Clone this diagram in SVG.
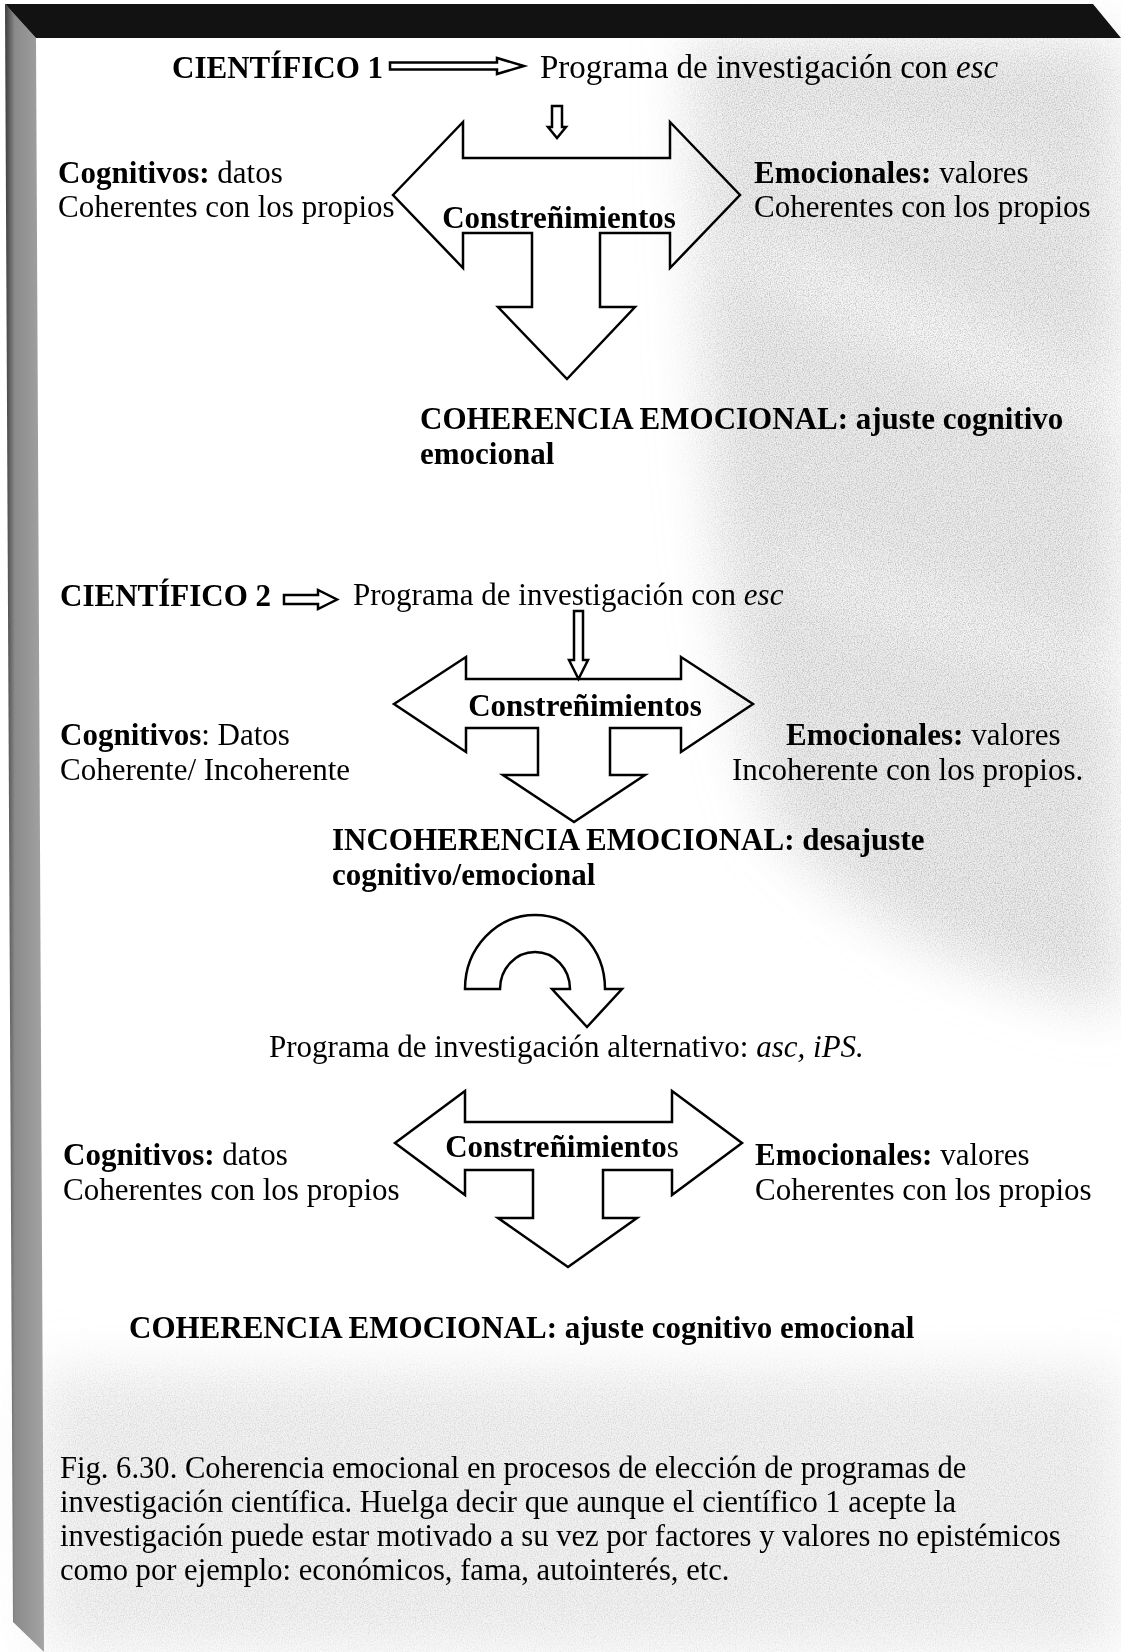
<svg xmlns="http://www.w3.org/2000/svg" width="1121" height="1652" viewBox="0 0 1121 1652">
  <style>
    .t { font-family: "Liberation Serif", "Times New Roman", serif; font-size: 31px; fill: #000; }
    .b { font-weight: bold; }
    .i { font-style: italic; }
    .n { font-weight: normal; }
    .cap { font-size: 30.6px; }
    .shape { fill: none; stroke: #000; stroke-width: 2.5; stroke-linejoin: miter; }
  </style>
  <defs>
    <filter id="soft" x="-30%" y="-30%" width="160%" height="160%">
      <feGaussianBlur stdDeviation="28"/>
    </filter>
    <filter id="grain" x="0" y="0" width="100%" height="100%">
      <feTurbulence type="fractalNoise" baseFrequency="0.85" numOctaves="2" seed="3"/>
      <feColorMatrix type="matrix" values="0 0 0 0 0  0 0 0 0 0  0 0 0 0 0  -2.2 0 0 0 1.3"/>
    </filter>
    <linearGradient id="bandShade" x1="0" y1="0" x2="1" y2="0">
      <stop offset="0" stop-color="#3c3c3c"/>
      <stop offset="0.25" stop-color="#8a8a8a"/>
      <stop offset="1" stop-color="#a4a4a4"/>
    </linearGradient>
    <mask id="paperTone">
      <rect x="0" y="0" width="1121" height="1652" fill="#000"/>
      <g filter="url(#soft)">
        <path d="M690 38 H1121 V1010 C1010 990 860 930 770 820 C710 640 700 330 690 38 Z" fill="#fff"/>
        <rect x="40" y="1370" width="1081" height="282" fill="#fff" opacity="0.6"/>
      </g>
    </mask>
  </defs>

  <!-- paper with soft marbled shading -->
  <rect x="0" y="0" width="1121" height="1652" fill="#ffffff"/>
  <g filter="url(#soft)">
    <path d="M690 38 H1121 V1010 C1010 990 860 930 770 820 C710 640 700 330 690 38 Z" fill="#cccccc" opacity="0.4"/>
    <ellipse cx="930" cy="330" rx="230" ry="26" transform="rotate(24 930 330)" fill="#ffffff" opacity="0.7"/>
    <ellipse cx="960" cy="620" rx="220" ry="22" transform="rotate(18 960 620)" fill="#ffffff" opacity="0.6"/>
    <ellipse cx="900" cy="160" rx="180" ry="20" transform="rotate(10 900 160)" fill="#ffffff" opacity="0.5"/>
    <rect x="40" y="1370" width="1081" height="282" fill="#d8d8d8" opacity="0.35"/>
  </g>
  <rect x="0" y="0" width="1121" height="1652" filter="url(#grain)" mask="url(#paperTone)" opacity="0.2"/>

  <!-- frame edges -->
  <polygon points="5,4 36,38 44,1652 13,1622" fill="url(#bandShade)"/>
  <polygon points="5,4 1093,4 1121,38 36,38" fill="#121212"/>

  <!-- section 1 -->
  <g id="cientifico1">
    <text class="t b" x="172" y="78">CIENTÍFICO 1</text>
  </g>
  <g id="programa1">
    <text class="t" x="540" y="78" style="font-size:33px">Programa de investigación con <tspan class="i">esc</tspan></text>
  </g>
  <g id="constrenimientos1">
    <path class="shape" d="M393 195 L463 122 L463 158 L670 158 L670 122 L740 195 L670 268 L670 233 L600 233 L600 307 L635 307 L567 379 L498 307 L532 307 L532 233 L463 233 L463 268 Z"/>
    <text class="t b" x="559" y="228" text-anchor="middle">Constreñimientos</text>
  </g>
  <g id="cognitivos1">
    <text class="t" x="58" y="183"><tspan class="b">Cognitivos:</tspan> datos</text>
    <text class="t" x="58" y="217">Coherentes con los propios</text>
  </g>
  <g id="emocionales1">
    <text class="t" x="754" y="183"><tspan class="b">Emocionales:</tspan> valores</text>
    <text class="t" x="754" y="217">Coherentes con los propios</text>
  </g>
  <g id="coherencia1">
    <text class="t b" x="420" y="429">COHERENCIA EMOCIONAL: ajuste cognitivo</text>
    <text class="t b" x="420" y="464">emocional</text>
  </g>

  <!-- section 2 -->
  <g id="cientifico2">
    <text class="t b" x="60" y="606">CIENTÍFICO 2</text>
  </g>
  <g id="programa2">
    <text class="t" x="353" y="605">Programa de investigación con <tspan class="i">esc</tspan></text>
  </g>
  <g id="constrenimientos2">
    <path class="shape" d="M394 704 L466 657 L466 679 L681 679 L681 657 L753 704 L681 752 L681 728 L610 728 L610 775 L645 775 L574 822 L503 775 L538 775 L538 728 L466 728 L466 752 Z"/>
    <text class="t b" x="585" y="716" text-anchor="middle">Constreñimientos</text>
  </g>
  <g id="cognitivos2">
    <text class="t" x="60" y="745"><tspan class="b">Cognitivos</tspan>: Datos</text>
    <text class="t" x="60" y="780">Coherente/ Incoherente</text>
  </g>
  <g id="emocionales2">
    <text class="t" x="786" y="745"><tspan class="b">Emocionales:</tspan> valores</text>
    <text class="t" x="732" y="780">Incoherente con los propios.</text>
  </g>
  <g id="incoherencia">
    <text class="t b" x="332" y="850">INCOHERENCIA EMOCIONAL: desajuste</text>
    <text class="t b" x="332" y="885">cognitivo/emocional</text>
  </g>

  <!-- section 3 -->
  <g id="giro">
    <path class="shape" d="M465 989 A70 74 0 0 1 605 989 L622 989 L587 1027 L552 989 L570 989 A35 37 0 0 0 500 989 Z"/>
  </g>
  <g id="alternativo">
    <text class="t" x="269" y="1057">Programa de investigación alternativo: <tspan class="i">asc, iPS.</tspan></text>
  </g>
  <g id="constrenimientos3">
    <path class="shape" d="M395 1143 L465 1091 L465 1122 L672 1122 L672 1091 L742 1143 L672 1195 L672 1170 L603 1170 L603 1218 L637 1218 L568 1267 L498 1218 L533 1218 L533 1170 L465 1170 L465 1195 Z"/>
    <text class="t b" x="562" y="1157" text-anchor="middle">Constreñimiento<tspan class="n">s</tspan></text>
  </g>
  <g id="cognitivos3">
    <text class="t" x="63" y="1165"><tspan class="b">Cognitivos:</tspan> datos</text>
    <text class="t" x="63" y="1200">Coherentes con los propios</text>
  </g>
  <g id="emocionales3">
    <text class="t" x="755" y="1165"><tspan class="b">Emocionales:</tspan> valores</text>
    <text class="t" x="755" y="1200">Coherentes con los propios</text>
  </g>
  <g id="coherencia3">
    <text class="t b" x="129" y="1338">COHERENCIA EMOCIONAL: ajuste cognitivo emocional</text>
  </g>

  <!-- connectors -->
  <g id="connectors">
    <path class="shape" d="M390 62.5 H497 V58 L524 66 L497 74 V69.5 H390 Z"/>
    <path class="shape" d="M552 106 H562 V127 H566 L557 138 L548 127 H552 Z"/>
    <path class="shape" d="M284 595 H318 V590 L337 599.5 L318 609 V604 H284 Z"/>
    <path class="shape" d="M574 611 H583 V660 H588 L578.5 679 L569 660 H574 Z"/>
  </g>

  <!-- caption -->
  <g id="caption">
    <text class="t cap" x="60" y="1478">Fig. 6.30. Coherencia emocional en procesos de elección de programas de</text>
    <text class="t cap" x="60" y="1512">investigación científica. Huelga decir que aunque el científico 1 acepte la</text>
    <text class="t cap" x="60" y="1546">investigación puede estar motivado a su vez por factores y valores no epistémicos</text>
    <text class="t cap" x="60" y="1580">como por ejemplo: económicos, fama, autointerés, etc.</text>
  </g>
</svg>
